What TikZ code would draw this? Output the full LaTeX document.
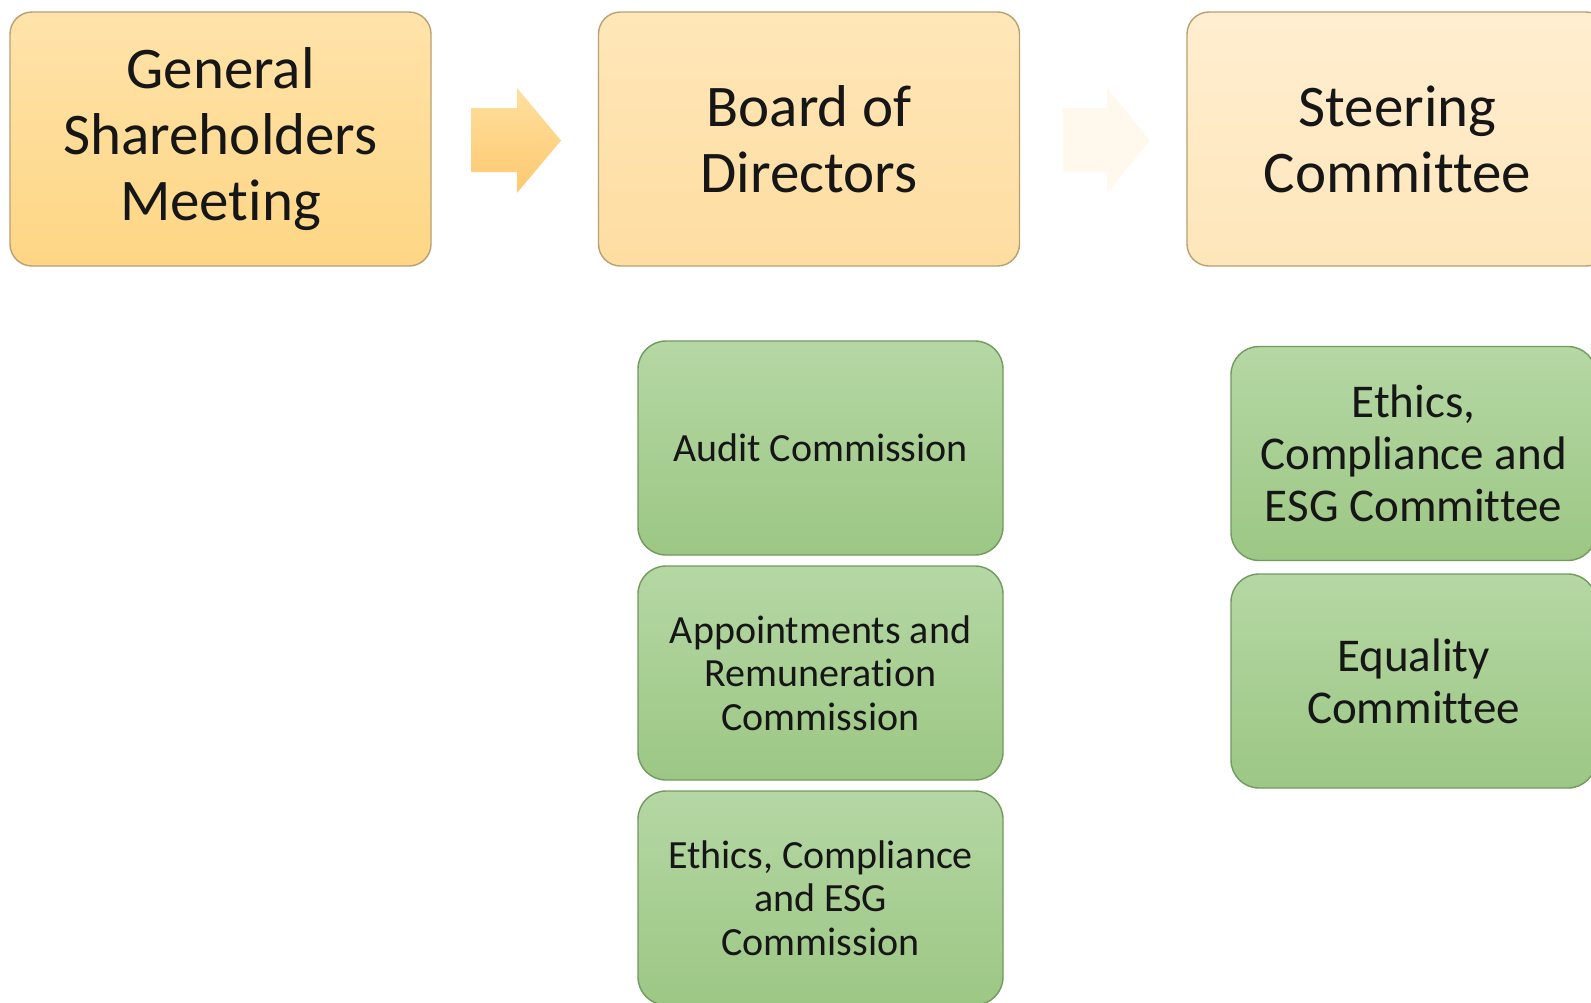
\documentclass[tikz,border=0pt]{standalone}
\usepackage{fontspec}
\setmainfont{Carlito}[Ligatures=NoCommon]
\definecolor{txt}{HTML}{161616}
\definecolor{boxline}{HTML}{B8A072}
\definecolor{gsmtop}{HTML}{FFE3AA}
\definecolor{gsmbot}{HTML}{FED684}
\definecolor{bodtop}{HTML}{FFE7B9}
\definecolor{bodbot}{HTML}{FEDDA0}
\definecolor{sctop}{HTML}{FFEED0}
\definecolor{scbot}{HTML}{FEE6BA}
\definecolor{commline}{HTML}{72995E}
\definecolor{commtop}{HTML}{B5D7A4}
\definecolor{commbot}{HTML}{9CC784}
\begin{document}
\begin{tikzpicture}[x=0.5pt,y=-0.5pt,govbox/.style={shape=rectangle,rounded corners=11pt,draw=boxline,line width=0.7pt,minimum width=210.5pt,minimum height=127pt,align=center,text=txt,font=\fontsize{29.5}{33}\selectfont},govA/.style={govbox,top color=gsmtop,bottom color=gsmbot},govB/.style={govbox,top color=bodtop,bottom color=bodbot},govC/.style={govbox,top color=sctop,bottom color=scbot},commbox/.style={shape=rectangle,rounded corners=14pt,draw=commline,line width=0.7pt,top color=commtop,bottom color=commbot,minimum width=182.5pt,minimum height=107pt,align=center,text=txt},commL/.style={commbox,font=\fontsize{20}{21.8}\selectfont},commR/.style={commbox,font=\fontsize{23.5}{25.9}\selectfont}]
\useasboundingbox (0,0) rectangle (1591,1002);
\def\ty{139};
\def\cxa{820.5};
\def\cxb{1413.5};

\node[govA] (gsm) at (220.5,\ty) {General\\Shareholders\\Meeting};
\node[govB] (bod) at (809,\ty) {Board of\\Directors};
\node[govC] (sc) at (1397.5,\ty) {Steering\\Committee};

% block arrows between the top boxes
\shade[top color=gsmtop!70!gsmbot,bottom color=gsmbot!85!orange] (471,108) -- (517,108) -- (517,88) -- (561,140.5) -- (517,193) -- (517,172) -- (471,172) -- cycle;
\fill[sctop!40!white] (1063,108) -- (1107,108) -- (1107,88) -- (1150,140.5) -- (1107,193) -- (1107,172) -- (1063,172) -- cycle;

\node[commL] (audit) at (\cxa,448) {Audit Commission};
\node[commL] (appt) at (\cxa,673) {Appointments and\\Remuneration\\Commission};
\node[commL] (ethicsC) at (\cxa,898) {Ethics, Compliance\\and ESG\\Commission};

\node[commR] (ethicsS) at (\cxb,453.5) {Ethics,\\Compliance and\\ESG Committee};
\node[commR] (equal) at (\cxb,681) {Equality\\Committee};
\end{tikzpicture}
\end{document}
